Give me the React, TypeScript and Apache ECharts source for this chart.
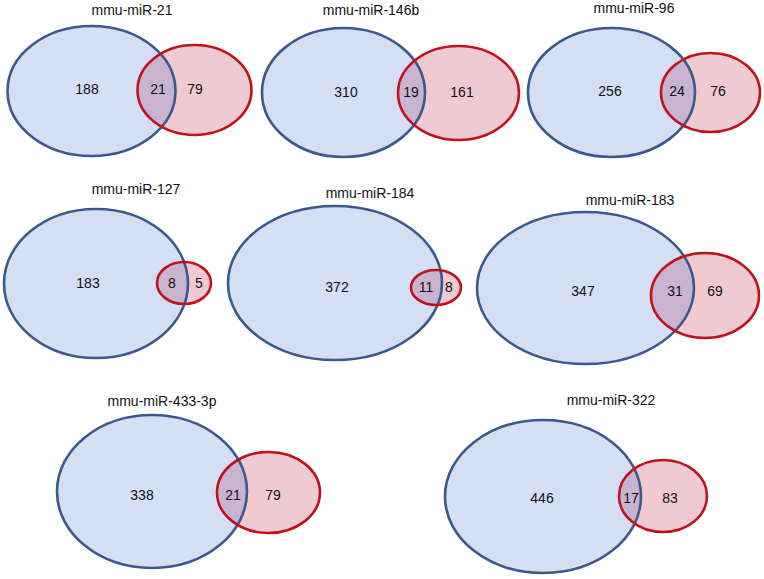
import React, { useEffect, useRef } from "react";
import * as echarts from "echarts";

// ---- data ----
const titles = [
  "mmu-miR-21",
  "mmu-miR-146b",
  "mmu-miR-96",
  "mmu-miR-127",
  "mmu-miR-184",
  "mmu-miR-183",
  "mmu-miR-433-3p",
  "mmu-miR-322",
];
const onlyLeft = [188, 310, 256, 183, 372, 347, 338, 446];
const shared = [21, 19, 24, 8, 11, 31, 21, 17];
const onlyRight = [79, 161, 76, 5, 8, 69, 79, 83];

// ---- layout (chart coordinate space 0..764 x 0..579) ----
// blue ellipse [cx, cy, rx, ry]
const blueShape = [
  [91.5, 91, 84, 65],
  [343.5, 92.5, 81.5, 64.5],
  [611.5, 92.5, 83.5, 64.5],
  [96, 283.5, 92, 74.5],
  [335, 283, 107, 77],
  [585.5, 288, 108.5, 76],
  [152, 491.5, 95, 76.5],
  [543, 496.5, 98, 76.5],
];
// red ellipse [cx, cy, rx, ry]
const redShape = [
  [194.5, 90, 57, 45],
  [458.5, 93, 60.5, 47],
  [710.5, 92.5, 49.5, 39.5],
  [184, 283, 27, 21],
  [436, 287.5, 25, 17.5],
  [705, 295.5, 54, 42.5],
  [268.5, 492.5, 51.5, 40.5],
  [663, 496, 44, 36],
];
// title anchor [x, y]
const titlePos = [
  [132, 10],
  [371, 10],
  [634, 8],
  [136, 189],
  [370, 193],
  [630, 200],
  [162, 401],
  [611, 400],
];
// label anchors [xLeft, xShared, xRight, y]
const labelPos = [
  [87, 158, 195, 89],
  [346, 411, 462, 92],
  [610, 677, 718, 91],
  [88, 172, 199, 283],
  [337, 426, 449, 287],
  [583, 675, 715, 291],
  [142, 233, 273, 495],
  [542, 631, 670, 498],
];

const FONT = "Liberation Sans, Arial, sans-serif";
const BLUE_FILL = "#d5dff3";
const PINK_FILL = "#f0cad3";
const LENS_FILL = "#c9b4cf";
const BLUE_LINE = "#3b5a8b";
const RED_LINE = "#c0111c";

export default function App() {
  const ref = useRef<HTMLDivElement>(null);
  useEffect(() => {
    if (!ref.current) return;
    const chart = echarts.init(ref.current, undefined, { renderer: "svg" });
    const renderItem = (params: any, api: any) => {
      const i = params.dataIndex;
      const px = (s: number[]) => {
        const c = api.coord([s[0], s[1]]);
        const sz = api.size([s[2], s[3]]);
        return { cx: c[0], cy: c[1], rx: sz[0], ry: sz[1] };
      };
      const b = px(blueShape[i]);
      const r = px(redShape[i]);
      const inside = (e: any, x: number, y: number) =>
        ((x - e.cx) / e.rx) ** 2 + ((y - e.cy) / e.ry) ** 2 <= 1;
      // lens (intersection) polygon
      const pts: number[][] = [];
      const N = 360;
      for (let k = 0; k < N; k++) {
        const t = (k / N) * Math.PI * 2;
        const bx = b.cx + b.rx * Math.cos(t);
        const by = b.cy + b.ry * Math.sin(t);
        if (inside(r, bx, by)) pts.push([bx, by]);
        const rx = r.cx + r.rx * Math.cos(t);
        const ry = r.cy + r.ry * Math.sin(t);
        if (inside(b, rx, ry)) pts.push([rx, ry]);
      }
      let mx = 0,
        my = 0;
      pts.forEach((p) => {
        mx += p[0];
        my += p[1];
      });
      mx /= pts.length || 1;
      my /= pts.length || 1;
      pts.sort(
        (p, q) => Math.atan2(p[1] - my, p[0] - mx) - Math.atan2(q[1] - my, q[0] - mx)
      );
      const ell = (e: any, fill: string, stroke: string, lw: number) => ({
        type: "ellipse",
        shape: e,
        style: { fill, stroke, lineWidth: lw },
      });
      const txt = (x: number, y: number, text: string) => {
        const p = api.coord([x, y]);
        return {
          type: "text",
          style: {
            text,
            x: p[0],
            y: p[1],
            align: "center",
            verticalAlign: "middle",
            fontSize: 14,
            fontFamily: FONT,
            fill: "#111",
          },
        };
      };
      const lp = labelPos[i];
      return {
        type: "group",
        children: [
          ell(b, BLUE_FILL, "none", 0),
          ell(r, PINK_FILL, "none", 0),
          { type: "polygon", shape: { points: pts }, style: { fill: LENS_FILL } },
          ell(b, "none", BLUE_LINE, 2.6),
          ell(r, "none", RED_LINE, 2.6),
          txt(titlePos[i][0], titlePos[i][1], titles[i]),
          txt(lp[0], lp[3], String(onlyLeft[i])),
          txt(lp[1], lp[3], String(shared[i])),
          txt(lp[2], lp[3], String(onlyRight[i])),
        ],
      };
    };
    chart.setOption({
      animation: false,
      backgroundColor: "#ffffff",
      grid: { left: 0, right: 0, top: 0, bottom: 0 },
      xAxis: { type: "value", min: 0, max: 764, show: false },
      yAxis: { type: "value", min: 0, max: 579, inverse: true, show: false },
      series: [
        {
          type: "custom",
          coordinateSystem: "cartesian2d",
          clip: false,
          silent: true,
          renderItem,
          data: titles.map((_, i) => [i, 0]),
        },
      ],
    });
    return () => chart.dispose();
  }, []);
  return (
    <div
      ref={ref}
      style={{ position: "fixed", left: 0, top: 0, width: 764, height: 579 }}
    />
  );
}
